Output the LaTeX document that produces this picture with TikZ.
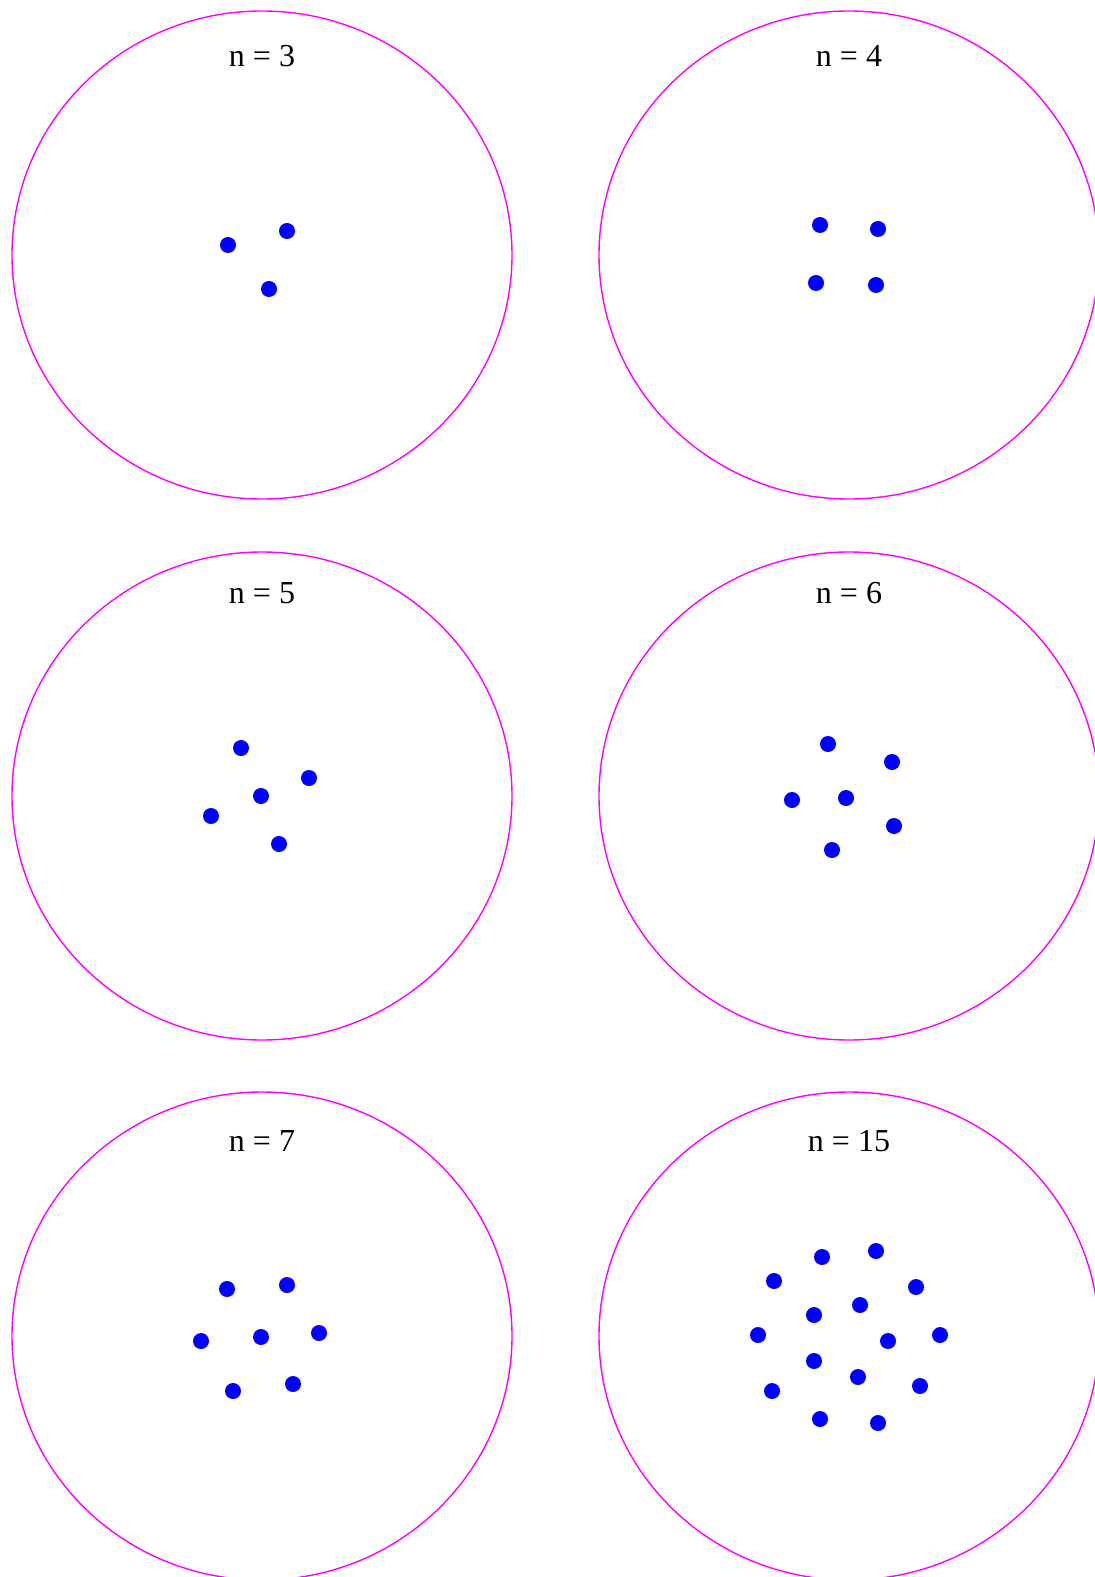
\documentclass[tikz,border=0pt]{standalone}
\usepackage{fontspec}
\setmainfont{Liberation Serif}
\usetikzlibrary{positioning}
\definecolor{ringpink}{RGB}{255,0,255}
\definecolor{dotblue}{RGB}{0,0,255}
\begin{document}
\begin{tikzpicture}[x=0.5pt,y=-0.5pt]
\tikzset{ring/.style={draw=ringpink,line width=0.7pt},
  dot/.style={circle,fill=dotblue,inner sep=0pt,minimum size=8pt},
  lbl/.style={anchor=base,inner sep=0pt,font=\fontsize{16}{19}\selectfont}}
\useasboundingbox (0,0) rectangle (1095,1577);
\foreach \n/\x/\y/\ly in {3/262/255/67,4/849/255/67,5/262/796/603,6/849/796/603,7/262/1336/1151,15/849/1336/1151}{
  \coordinate (c\n) at (\x,\y);
  \draw[ring] (c\n) ellipse [x radius=125pt,y radius=122pt];
  \node[lbl] (l\n) at (\x,\ly) {n = \n};
}
\foreach \x/\y [count=\i] in {228/245,287/231,269/289} \node[dot] (a\i) at (\x,\y) {};
\foreach \x/\y [count=\i] in {820/225,878/229,816/283,876/285} \node[dot] (b\i) at (\x,\y) {};
\foreach \x/\y [count=\i] in {241/748,309/778,261/796,211/816,279/844} \node[dot] (e\i) at (\x,\y) {};
\foreach \x/\y [count=\i] in {828/744,892/762,792/800,846/798,894/826,832/850} \node[dot] (f\i) at (\x,\y) {};
\foreach \x/\y [count=\i] in {227/1289,287/1285,201/1341,261/1337,319/1333,233/1391,293/1384} \node[dot] (g\i) at (\x,\y) {};
\foreach \x/\y [count=\i] in {822/1257,876/1251,774/1281,916/1287,860/1305,814/1315,758/1335,888/1341,940/1335,814/1361,858/1377,772/1391,920/1386,820/1419,878/1423} \node[dot] (h\i) at (\x,\y) {};
\end{tikzpicture}
\end{document}
